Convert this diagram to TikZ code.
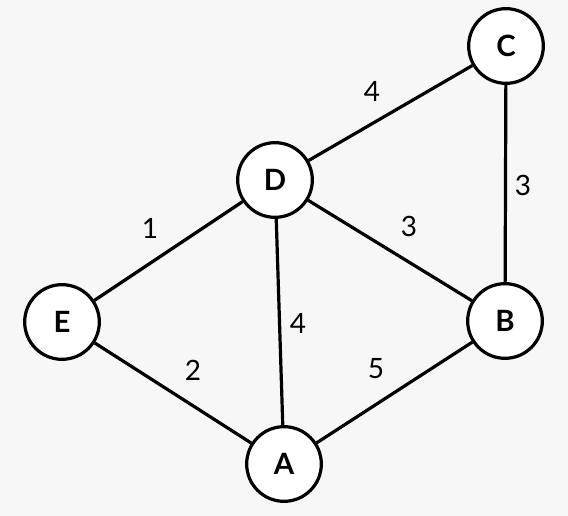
\documentclass[tikz,border=0pt]{standalone}
\usepackage{fontspec}
\setmainfont{Lato}
\definecolor{fond}{HTML}{F7F7F7}
\tikzset{
  sommet/.style={circle,draw,line width=2.4pt,fill=white,minimum size=56pt,inner sep=0pt,font=\fontsize{22}{26}\selectfont\bfseries},
  arete/.style={line width=2.4pt},
  poids/.style={font=\fontsize{21}{25}\selectfont}
}
\begin{document}
\begin{tikzpicture}[x=0.75pt,y=-0.75pt]

% Fond
\fill[fond] (0,0) rectangle (568,516);
\useasboundingbox (0,0) rectangle (568,516);

% Sommets
\node[sommet] (C) at (506,46) {C};
\node[sommet] (D) at (275,180) {D};
\node[sommet] (E) at (62,322) {E};
\node[sommet] (B) at (505,321) {B};
\node[sommet] (A) at (284,464) {A};

% Arêtes
\draw[arete] (D) -- (C);
\draw[arete] (C) -- (B);
\draw[arete] (D) -- (B);
\draw[arete] (D) -- (E);
\draw[arete] (D) -- (A);
\draw[arete] (E) -- (A);
\draw[arete] (A) -- (B);

% Poids
\node[poids] (pDC) at (372,91) {4};
\node[poids] (pCB) at (523,185) {3};
\node[poids] (pDB) at (409,226) {3};
\node[poids] (pDE) at (150,228) {1};
\node[poids] (pDA) at (298,323) {4};
\node[poids] (pEA) at (193,370) {2};
\node[poids] (pAB) at (376,369) {5};

\end{tikzpicture}
\end{document}
